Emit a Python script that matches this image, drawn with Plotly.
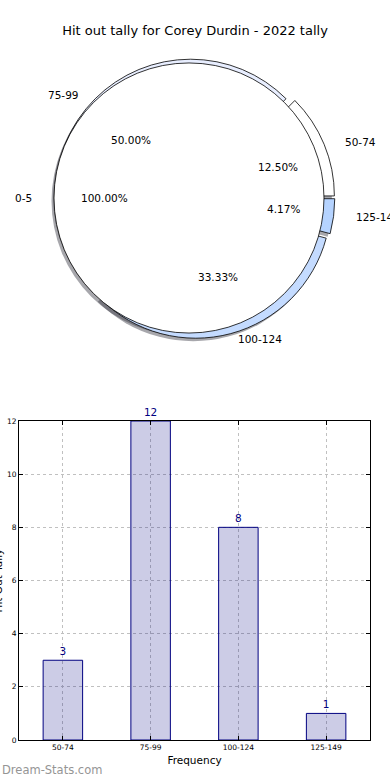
import numpy as np
import plotly.graph_objects as go

title_text = "Hit out tally for Corey Durdin - 2022 tally"
categories = ["50-74", "75-99", "100-124", "125-149"]
counts = [3, 12, 8, 1]
extra_labels = ["0-5"]
extra_values = [1]
slice_colors = ["#FFFFFF", "#E8EEFF", "#C4DBFF", "#B5D3FF"]
extra_colors = ["#FFFFFF"]
y_ticks = [0, 2, 4, 6, 8, 10, 12]
x_title = "Frequency"
y_title = "Hit Out Tally"
watermark = "Dream-Stats.com"

W, H = 390, 780
FONT = "DejaVu Sans"

# pie geometry (pixels)
pcx, pcy = 194.4, 198.0
r = 135.0
rx, ry = 141.0, 128.0
pull = 0.04
R = r * (1 + pull)

bar_x_dom = [19 / W, 370 / W]
bar_y_dom = [40 / H, 359 / H]


def dom(cx, cy):
    return dict(x=[(cx - R) / W, (cx + R) / W], y=[1 - (cy + R) / H, 1 - (cy - R) / H])


fig = go.Figure()

groups = [(categories, counts, slice_colors), (extra_labels, extra_values, extra_colors)]


def rot_for(vals):
    # first slice starts at 3 o'clock and runs counterclockwise
    return 90 - 360.0 * vals[0] / float(sum(vals))


# shadows
for labs, vals, cols in groups:
    fig.add_trace(go.Pie(
        labels=labs, values=vals, sort=False, direction="counterclockwise", rotation=rot_for(vals),
        pull=[pull] * len(vals),
        marker=dict(colors=["rgba(60,60,70,0.45)"] * len(vals), line=dict(width=0)),
        textinfo="none", hoverinfo="skip", showlegend=False,
        domain=dom(pcx - 2.5, pcy + 3),
    ))

for labs, vals, cols in groups:
    fig.add_trace(go.Pie(
        labels=labs, values=vals, sort=False, direction="counterclockwise", rotation=rot_for(vals),
        pull=[pull] * len(vals),
        marker=dict(colors=cols, line=dict(color="black", width=0.8)),
        textinfo="none", hoverinfo="skip", showlegend=False,
        domain=dom(pcx, pcy),
    ))

annotations = []
for labs, vals, cols in groups:
    total = float(sum(vals))
    cum = 0.0
    for lab, v in zip(labs, vals):
        mid = np.deg2rad(360.0 * (cum + v / 2.0) / total)
        cum += v
        c, s = np.cos(mid), np.sin(mid)
        scx = pcx + pull * rx * c
        scy = pcy - pull * ry * s
        lx, ly = scx + 1.1 * rx * c, scy - 1.1 * ry * s
        tx, ty = scx + 0.6 * rx * c, scy - 0.6 * ry * s
        annotations.append(dict(
            x=lx / W, y=1 - ly / H, xref="paper", yref="paper", text=lab, showarrow=False,
            xanchor="left" if c > 1e-9 else "right", yanchor="middle",
            font=dict(family=FONT, size=10.5, color="black"),
        ))
        annotations.append(dict(
            x=tx / W, y=1 - ty / H, xref="paper", yref="paper", text=f"{100 * v / total:.2f}%",
            showarrow=False, xanchor="center", yanchor="middle",
            font=dict(family=FONT, size=10.5, color="black"),
        ))

annotations.append(dict(
    x=0, y=1 - 770 / H, xref="paper", yref="paper", text=watermark, showarrow=False,
    xanchor="left", yanchor="middle", font=dict(family=FONT, size=11.5, color="#959595"),
))

# y-axis title (partly beyond the left edge, as in the original)
annotations.append(dict(
    x=-3 / W, y=(bar_y_dom[0] + bar_y_dom[1]) / 2, xref="paper", yref="paper", text=y_title,
    textangle=-90, showarrow=False, xanchor="center", yanchor="middle",
    font=dict(family=FONT, size=10.5, color="black"),
))

fig.add_trace(go.Bar(
    x=categories, y=counts, width=0.45,
    marker=dict(color="rgba(0,0,128,0.2)", line=dict(color="navy", width=1)),
    text=[str(c) for c in counts], textposition="outside", cliponaxis=False,
    textfont=dict(family=FONT, size=10.5, color="navy"),
    hoverinfo="skip", showlegend=False,
))

axis_common = dict(
    showline=True, linecolor="black", linewidth=1, mirror="ticks",
    ticks="inside", ticklen=4, tickcolor="black", automargin=False,
    showgrid=True, gridcolor="#c0c0c0", griddash="dot", gridwidth=1,
    zeroline=False, tickfont=dict(family=FONT, size=7.5, color="black"),
)

fig.update_layout(
    width=W, height=H, margin=dict(l=0, r=0, t=0, b=0, pad=0),
    paper_bgcolor="white", plot_bgcolor="white", showlegend=False,
    title=dict(text=title_text, x=0.5, xanchor="center", y=1 - 30 / H, yanchor="middle",
               font=dict(family=FONT, size=13, color="black"), automargin=False),
    xaxis=dict(domain=bar_x_dom, range=[-0.5, 3.5], type="category",
               title=dict(text=x_title, font=dict(family=FONT, size=10.5, color="black"), standoff=5),
               **axis_common),
    yaxis=dict(domain=bar_y_dom, range=[0, 12], tickvals=y_ticks, **axis_common),
    annotations=annotations,
)

fig.write_html("out.html", config={"displayModeBar": False},
               post_script="document.body.style.margin='0px';")
